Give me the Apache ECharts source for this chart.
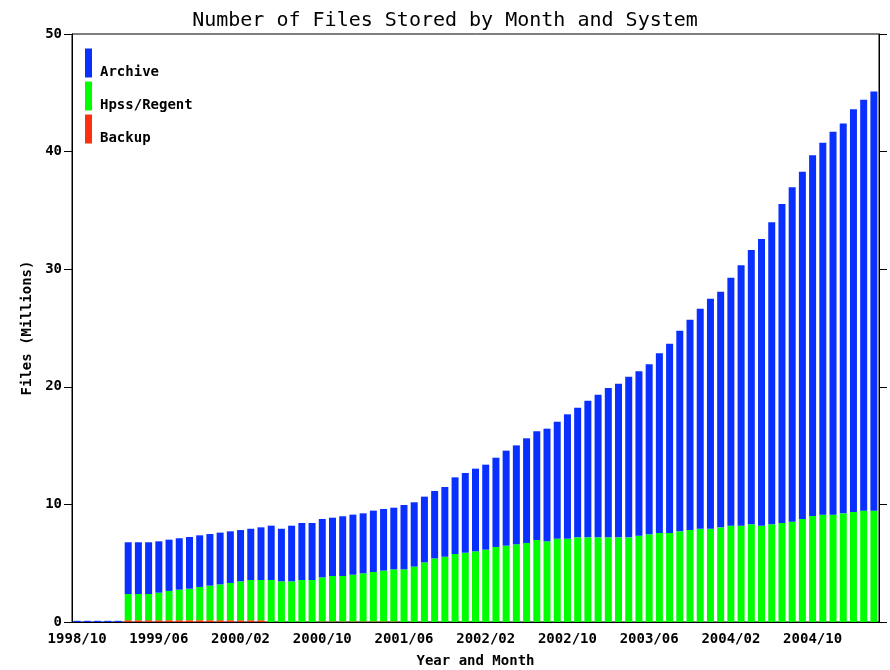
<!DOCTYPE html>
<html>
<head>
<meta charset="utf-8">
<title>Number of Files Stored by Month and System</title>
<script src="https://cdn.jsdelivr.net/npm/echarts@6/dist/echarts.min.js"></script>
<style>
  html, body { margin: 0; padding: 0; background: #fff; }
  #chart { width: 890px; height: 670px; }
</style>
</head>
<body>
<div id="chart"></div>
<script>
// months 1998/10 .. 2005/04
var months = [];
for (var y = 1998, m = 10; months.length < 79; m++) {
  if (m > 12) { m = 1; y++; }
  months.push(y + '/' + (m < 10 ? '0' + m : m));
}

// millions of files, one value per month
var backup = [
  0, 0, 0, 0, 0,
  0.15, 0.15, 0.15, 0.15, 0.15, 0.15, 0.15, 0.15, 0.15, 0.15, 0.15, 0.15, 0.15, 0.15,
  0, 0, 0, 0, 0,
  0.05, 0.05, 0.05, 0.05, 0.05, 0.05, 0.05, 0.05,
  0, 0, 0, 0, 0, 0, 0, 0, 0, 0, 0, 0, 0, 0, 0, 0, 0, 0, 0, 0, 0, 0, 0, 0, 0,
  0, 0, 0, 0, 0, 0, 0, 0, 0, 0, 0, 0, 0, 0, 0, 0, 0, 0, 0, 0, 0, 0
];

var hpss = [
  0, 0, 0, 0, 0,
  2.23, 2.23, 2.23, 2.34, 2.49, 2.60, 2.68, 2.83, 2.94, 3.05, 3.17, 3.31, 3.42, 3.42,
  3.57, 3.46, 3.46, 3.57, 3.57,
  3.75, 3.86, 3.86, 3.97, 4.09, 4.20, 4.32, 4.43,
  4.48, 4.71, 5.07, 5.41, 5.55, 5.78, 5.89, 6.01, 6.15, 6.38, 6.49, 6.61, 6.72, 6.97,
  6.86, 7.08, 7.08, 7.20, 7.20, 7.20, 7.20, 7.20, 7.20, 7.34, 7.46, 7.57, 7.57, 7.71,
  7.82, 7.93, 7.93, 8.05, 8.19, 8.19, 8.31, 8.19, 8.31, 8.42, 8.53, 8.76, 9.01, 9.13,
  9.13, 9.24, 9.35, 9.47, 9.47
];

var archive = [
  0.1, 0.1, 0.1, 0.1, 0.1,
  4.40, 4.40, 4.40, 4.37, 4.36, 4.37, 4.40, 4.39, 4.39, 4.40, 4.39, 4.36, 4.36, 4.48,
  4.62, 4.47, 4.73, 4.85, 4.85,
  4.96, 4.96, 5.08, 5.11, 5.10, 5.22, 5.24, 5.24,
  5.47, 5.47, 5.59, 5.73, 5.93, 6.52, 6.78, 7.03, 7.23, 7.59, 8.08, 8.41, 8.90, 9.25,
  9.58, 9.95, 10.58, 11.02, 11.62, 12.13, 12.70, 13.06, 13.66, 13.98, 14.45, 15.28, 16.10, 17.06,
  17.89, 18.71, 19.55, 20.04, 21.09, 22.14, 23.32, 24.38, 25.68, 27.12, 28.43, 29.53, 30.67, 31.63,
  32.56, 33.16, 34.25, 34.94, 35.65
];

var yTicks = [0, 10, 20, 30, 40, 50];

var font = 'DejaVu Sans Mono';
var myChart = echarts.init(document.getElementById('chart'));

myChart.setOption({
  backgroundColor: '#fff',
  animation: false,
  title: {
    text: 'Number of Files Stored by Month and System',
    left: 'center',
    top: 6,
    textStyle: { fontFamily: font, fontSize: 20, fontWeight: 'normal', color: '#000' }
  },
  legend: {
    orient: 'vertical',
    left: 85,
    top: 44,
    padding: 0,
    itemWidth: 7,
    itemHeight: 29,
    itemGap: -5,
    icon: 'rect',
    data: ['Archive', 'Hpss/Regent', 'Backup'],
    // text sits at the bottom of the swatch, as in the original
    formatter: function (name) { return '\n' + name; },
    textStyle: {
      fontFamily: font, fontSize: 14, fontWeight: 'bold', color: '#000',
      lineHeight: 19, padding: [0, 0, 0, 3]
    }
  },
  grid: {
    left: 72, right: 11, top: 34, bottom: 48,
    outerBoundsMode: 'none',
    show: true, borderColor: '#000', borderWidth: 1
  },
  xAxis: {
    type: 'category',
    data: months,
    name: 'Year and Month',
    nameLocation: 'middle',
    nameGap: 32,
    nameTextStyle: { fontFamily: font, fontSize: 14, fontWeight: 'bold', color: '#000' },
    axisLine: { lineStyle: { color: '#000' } },
    axisTick: { alignWithLabel: true, interval: 7, length: 8, lineStyle: { color: '#000' } },
    axisLabel: { interval: 7, margin: 10, fontFamily: font, fontSize: 14, fontWeight: 'bold', color: '#000' }
  },
  yAxis: [{
    type: 'value',
    min: yTicks[0],
    max: yTicks[yTicks.length - 1],
    interval: 10,
    name: 'Files (Millions)',
    nameLocation: 'middle',
    nameGap: 38,
    nameTextStyle: { fontFamily: font, fontSize: 14, fontWeight: 'bold', color: '#000' },
    axisLine: { show: true, lineStyle: { color: '#000' } },
    axisTick: { show: true, length: 8, lineStyle: { color: '#000' } },
    axisLabel: { margin: 10, fontFamily: font, fontSize: 14, fontWeight: 'bold', color: '#000' },
    splitLine: { show: false }
  }, {
    type: 'value',
    position: 'right',
    min: yTicks[0],
    max: yTicks[yTicks.length - 1],
    interval: 10,
    axisLine: { show: true, lineStyle: { color: '#000' } },
    axisTick: { show: true, length: 8, lineStyle: { color: '#000' } },
    axisLabel: { show: false },
    splitLine: { show: false }
  }],
  series: [
    {
      name: 'Backup', type: 'bar', stack: 'files', data: backup,
      barWidth: 7, itemStyle: { color: '#ff3010' }
    },
    {
      name: 'Hpss/Regent', type: 'bar', stack: 'files', data: hpss,
      barWidth: 7, itemStyle: { color: '#00ff00' }
    },
    {
      name: 'Archive', type: 'bar', stack: 'files', data: archive,
      barWidth: 7, itemStyle: { color: '#0a30ff' }
    }
  ]
});
</script>
</body>
</html>
